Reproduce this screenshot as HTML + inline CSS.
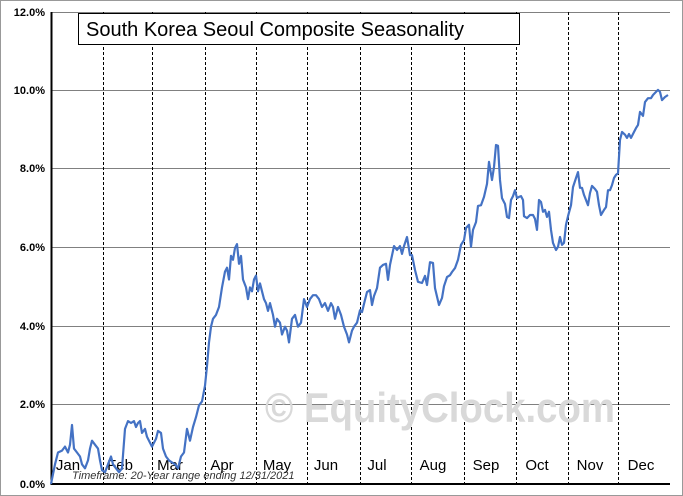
<!DOCTYPE html>
<html><head><meta charset="utf-8"><style>
body{margin:0;background:#fff}
svg{display:block;font-family:"Liberation Sans",sans-serif}
</style></head><body>
<svg id="s" width="683" height="496" viewBox="0 0 683 496">
<rect x="0.5" y="0.5" width="682" height="495" fill="#fff" stroke="#999"/>
<g stroke="#808080" stroke-width="1">
<line x1="51" x2="670" y1="12.5" y2="12.5"/>
<line x1="51" x2="670" y1="90.5" y2="90.5"/>
<line x1="51" x2="670" y1="168.5" y2="168.5"/>
<line x1="51" x2="670" y1="247.5" y2="247.5"/>
<line x1="51" x2="670" y1="326.5" y2="326.5"/>
<line x1="51" x2="670" y1="404.5" y2="404.5"/>
</g>
<g stroke="#000" stroke-width="1" stroke-dasharray="3,2">
<line x1="103.5" x2="103.5" y1="12" y2="484"/>
<line x1="152.5" x2="152.5" y1="12" y2="484"/>
<line x1="205.5" x2="205.5" y1="12" y2="484"/>
<line x1="256.5" x2="256.5" y1="12" y2="484"/>
<line x1="307.5" x2="307.5" y1="12" y2="484"/>
<line x1="360.5" x2="360.5" y1="12" y2="484"/>
<line x1="411.5" x2="411.5" y1="12" y2="484"/>
<line x1="464.5" x2="464.5" y1="12" y2="484"/>
<line x1="516.5" x2="516.5" y1="12" y2="484"/>
<line x1="568.5" x2="568.5" y1="12" y2="484"/>
<line x1="618.5" x2="618.5" y1="12" y2="484"/>
</g>
<text x="265" y="422" font-size="42" font-weight="bold" fill="#d9d9d9" textLength="350" lengthAdjust="spacingAndGlyphs">© EquityClock.com</text>
<line x1="51.5" x2="51.5" y1="12" y2="485" stroke="#000" stroke-width="2"/>
<line x1="51" x2="670" y1="484" y2="484" stroke="#000" stroke-width="2"/>
<g font-size="11" font-weight="bold" text-anchor="end">
<text x="45" y="16">12.0%</text><text x="45" y="94">10.0%</text><text x="45" y="172">8.0%</text>
<text x="45" y="251">6.0%</text><text x="45" y="330">4.0%</text><text x="45" y="408">2.0%</text><text x="45" y="488">0.0%</text>
</g>
<g font-size="15" text-anchor="middle">
<text x="68" y="470">Jan</text><text x="120" y="470">Feb</text><text x="170" y="470">Mar</text>
<text x="222" y="470">Apr</text><text x="277" y="470">May</text><text x="326" y="470">Jun</text>
<text x="377" y="470">Jul</text><text x="433" y="470">Aug</text><text x="486" y="470">Sep</text>
<text x="537" y="470">Oct</text><text x="590" y="470">Nov</text><text x="641" y="470">Dec</text>
</g>
<text x="72" y="479" font-size="11" font-style="italic" fill="#333">Timeframe: 20-Year range ending 12/31/2021</text>
<polyline id="p" fill="none" stroke="#4472c4" stroke-width="2.2" stroke-linejoin="round"/>
<rect x="78.5" y="13.5" width="441" height="31" fill="#fff" stroke="#000"/>
<text x="86" y="36" font-size="20">South Korea Seoul Composite Seasonality</text>
</svg>
<script>
var d=[51,0,55,0.5,58,0.8,62,0.85,65,0.95,68,0.8,70,1.0,72,1.5,74,0.9,77,0.8,80,0.7,82,0.5,85,0.4,88,0.6,90,0.9,92,1.1,95,1.0,98,0.9,100,0.6,102,0.35,105,0.3,108,0.5,111,0.7,113,0.5,116,0.4,119,0.3,122,0.4,125,1.4,128,1.6,131,1.55,134,1.6,136,1.45,138,1.55,140,1.6,142,1.3,145,1.4,147,1.2,149,1.1,152,0.95,156,1.15,158,1.35,161,1.3,163,0.9,166,0.7,169,0.6,172,0.55,175,0.5,178,0.4,181,0.7,184,0.8,187,1.4,190,1.1,193,1.45,196,1.7,199,2.0,202,2.1,205,2.5,207,3.0,209,3.6,211,4.0,213,4.2,216,4.3,219,4.5,222,5.0,225,5.4,227,5.5,229,5.2,231,5.8,233,5.7,235,6.0,237,6.1,239,5.6,241,5.8,243,5.2,246,5.0,248,4.7,250,5.0,252,4.9,254,5.2,256,5.3,258,4.9,260,5.1,262,4.9,264,4.7,266,4.6,268,4.4,270,4.6,273,4.3,275,4.0,277,4.2,280,4.1,282,3.8,285,4.0,287,3.9,289,3.6,292,4.2,295,4.3,298,4.0,301,4.1,304,4.7,307,4.5,310,4.7,313,4.8,316,4.8,319,4.7,322,4.5,325,4.6,328,4.4,331,4.6,333,4.5,335,4.2,338,4.5,341,4.3,344,4.0,347,3.8,349,3.6,352,3.9,354,4.0,357,4.1,360,4.42,362,4.37,365,4.68,367,4.88,370,4.93,372,4.55,374,4.78,377,4.98,380,5.5,383,5.57,386,5.6,388,5.19,390,5.57,394,6.05,397,5.95,400,6.05,402,5.85,404,6.05,407,6.28,410,5.82,412,5.82,415,5.44,418,5.14,422,5.11,425,5.29,427,5.06,430,5.64,433,5.62,435,4.98,439,4.55,442,4.73,444,5.03,447,5.26,450,5.31,452,5.39,455,5.49,458,5.70,461,6.08,464,6.2,466,6.51,469,6.59,471,6.03,473,6.46,476,6.66,478,7.07,481,7.09,484,7.3,487,7.63,489,8.19,492,7.73,494,8.06,496,8.62,498,8.6,500,7.73,502,7.27,505,7.12,507,6.79,509,6.76,511,7.22,513,7.32,515,7.47,517,7.27,519,7.3,521,7.32,523,7.22,524,6.81,527,6.76,530,6.84,533,6.84,535,6.74,537,6.46,539,7.22,541,7.17,543,6.92,545,6.97,547,6.79,549,6.92,551,6.46,553,6.13,556,5.95,558,6.03,560,6.28,562,6.08,564,6.13,566,6.59,568,6.81,571,7.09,573,7.55,576,7.78,578,7.93,580,7.53,582,7.53,584,7.35,586,7.22,588,7.09,590,7.40,592,7.58,595,7.5,597,7.43,599,7.09,601,6.84,604,6.97,606,7.04,608,7.47,610,7.47,612,7.6,614,7.78,616,7.86,618,7.9,620,8.75,622,8.95,625,8.88,627,8.8,629,8.9,631,8.8,634,8.95,636,9.05,638,9.13,640,9.46,643,9.36,645,9.71,648,9.81,651,9.81,653,9.89,656,9.97,658,10.02,660,9.97,662,9.76,665,9.84,668,9.89];
var s="";for(var i=0;i<d.length;i+=2){s+=d[i]+","+(484-d[i+1]*39.33).toFixed(1)+" ";}
document.getElementById("p").setAttribute("points",s);
</script>
</body></html>
